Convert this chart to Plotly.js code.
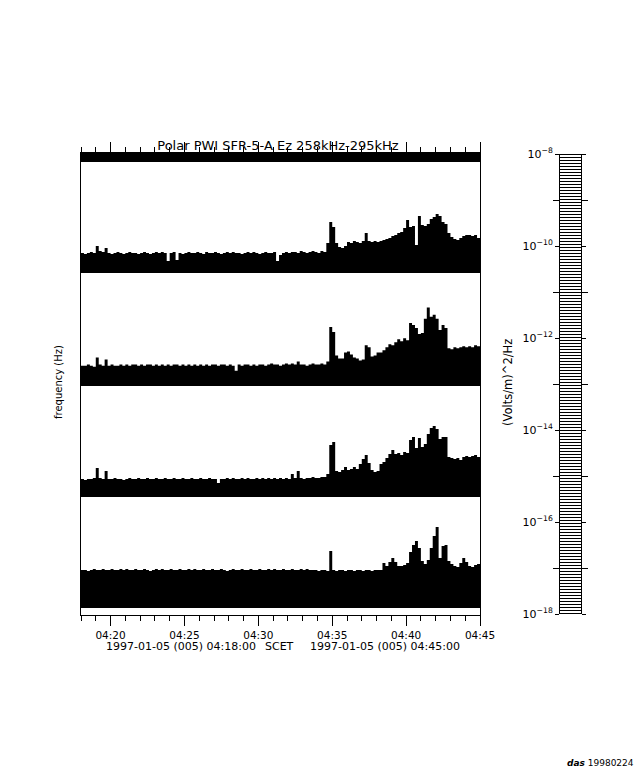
<!DOCTYPE html>
<html>
<head>
<meta charset="utf-8">
<script src="https://cdn.plot.ly/plotly-3.0.1.min.js"></script>
<style>html,body{margin:0;padding:0;background:#fff;}#chart{width:640px;height:768px;}</style>
</head>
<body>
<div id="chart"></div>
<script>
// ---- data ----
var startTime = '1997-01-05 04:18:00';
var sampleSeconds = 12;   // one sample every 12 s, 04:18:00 - 04:45:00

// relative level in each of the 4 frequency bands (0 = band floor)
var band1 = [20,19,20,21,20,27,22,21,25,20, 19,20,21,20,19,20,21,20,20,19,
  20,21,20,19,20,21,20,21,20,12, 20,21,13,20,19,20,21,20,20,21,
  20,19,21,20,20,21,20,19,20,21, 20,21,20,20,19,20,21,20,21,20,
  19,20,21,20,20,21,12,18,20,21, 20,21,21,20,22,21,20,21,22,21,
  20,22,21,30, 51,46,30,26,25,27,31,30,32,31, 30,32,40,32,31,32,31,32,33,34,
  35,37,38,40,41,45,53,46,47,28, 57,48,47,49,54,56,59,57,51,49,
  40,36,34,33,35,37,38,38,37,38, 35,36];
var band2 = [20,20,21,20,19,28,21,20,26,20, 21,20,20,21,20,21,20,21,21,20,
  21,20,21,21,20,21,20,21,20,21, 20,21,21,20,21,20,21,20,21,20,
  21,20,21,20,21,21,20,21,21,20, 21,20,15,21,20,21,21,20,21,20,
  21,21,20,21,22,21,21,20,21,22, 21,22,21,24,21,21,20,21,22,21,
  21,22, 21,24,58,53,30,27,27,33,34,31, 28,27,25,26,40,38,29,30,33,33,
  35,38,41,40,43,46,44,47,45,62, 60,57,51,52,66,77,68,70,66,55,
  60,57,37,36,38,37,38,39,38,39, 38,40,39,41];
var band3 = [18,17,18,18,19,29,19,18,26,18, 18,19,18,18,17,18,19,18,18,19,
  18,18,19,18,18,19,18,18,19,18, 18,19,18,18,19,18,18,19,18,18,
  19,18,18,19,18,18,14,18,18,19, 18,19,18,18,19,18,19,18,18,19,
  18,19,18,19,18,19,18,19,18,19, 18,23,19,26,19,18,19,19,20,19,
  19,20, 20,23,52,55,26,25,27,30,27,28, 30,28,33,38,42,34,27,25,26,33,
  35,39,43,47,43,44,42,45,44,57, 60,49,59,50,53,63,69,71,68,58,
  60,60,40,39,38,39,37,40,41,40, 41,42,40,41];
var band4 = [38,38,37,38,39,38,38,39,38,38, 39,38,38,39,38,39,38,38,39,38,
  38,39,38,37,38,39,38,39,38,38, 39,38,38,39,38,38,39,38,39,38,
  38,39,38,38,39,38,38,39,38,37, 38,39,38,38,39,38,38,39,38,38,
  39,38,38,39,38,39,38,38,39,38, 38,39,38,38,39,38,39,38,38,38,
  37,38,38,37, 57,38,37,38,38,37,38,38,37,38, 38,37,38,38,37,38,38,38,45,42,
  46,50,46,42,42,43,45,56,63,67, 60,47,44,48,60,72,81,50,62,63,
  47,44,42,41,45,50,46,42,41,43, 44,45];

var colorbarExponents = [-18,-16,-14,-12,-10,-8];
var colorbarLabels = ['10<sup>−18</sup>','10<sup>−16</sup>','10<sup>−14</sup>',
  '10<sup>−12</sup>','10<sup>−10</sup>','10<sup>−8</sup>'];

var titleText = 'Polar PWI SFR-5-A Ez 258kHz-295kHz';
var xTickFormat = '%H:%M';
var startLabel = '1997-01-05 (005) 04:18:00';
var endLabel = '1997-01-05 (005) 04:45:00';

// ---- build times ----
function pad(n){return (n<10?'0':'')+n;}
var t0 = Date.parse(startTime.replace(' ','T')+'Z');
var times = band1.map(function(_,i){
  var d = new Date(t0 + i*sampleSeconds*1000);
  return d.getUTCFullYear()+'-'+pad(d.getUTCMonth()+1)+'-'+pad(d.getUTCDate())+' '+
    pad(d.getUTCHours())+':'+pad(d.getUTCMinutes())+':'+pad(d.getUTCSeconds());
});

// ---- geometry (pixels) ----
var W=640,H=768, L=81, R=586, T=153, B=615;
var pw=R-L, ph=B-T;
function fx(px){return (px-L)/pw;}
function fy(py){return (B-py)/ph;}
var bandEdges=[608,497,386,273,162];

var bands=[band4,band3,band2,band1];
var traces=[{x:[times[0]],y:[0.5],xaxis:'x',yaxis:'y',mode:'markers',marker:{size:0.1,opacity:0},showlegend:false,hoverinfo:'skip'}];
var layout={
  width:W,height:H,
  margin:{l:L,r:W-R,t:T,b:H-B,pad:0},
  paper_bgcolor:'#fff',plot_bgcolor:'rgba(0,0,0,0)',
  font:{family:'DejaVu Sans',size:10,color:'#000'},
  showlegend:false,
  title:{text:titleText,x:278/W,xref:'container',xanchor:'center',y:1-145/H,yref:'container',yanchor:'middle',
    font:{family:'DejaVu Sans',size:13,color:'#000'}},
  xaxis:{type:'date',domain:[0,fx(480)],anchor:'y',range:[times[0],times[times.length-1]],
    tickformat:xTickFormat,dtick:300000,tick0:'1997-01-05 04:20:00',
    ticks:'outside',ticklen:10,tickwidth:1,tickcolor:'#000',
    showline:true,linecolor:'#000',linewidth:1,mirror:'ticks',showgrid:false,zeroline:false,
    tickfont:{size:10.5},
    minor:{dtick:60000,tick0:'1997-01-05 04:20:00',ticks:'outside',ticklen:5,tickwidth:1,tickcolor:'#000',showgrid:false}},
  yaxis:{domain:[0,1],anchor:'x',range:[0,1],showline:true,mirror:true,linecolor:'#000',linewidth:1,
    showticklabels:false,ticks:'',showgrid:false,zeroline:false},
  shapes:[{type:'rect',xref:'x',yref:'paper',x0:times[0],x1:times[times.length-1],
    y0:fy(bandEdges[4]),y1:1,fillcolor:'#000',line:{width:0},layer:'below'}],
  annotations:[]
};
for(var k=0;k<4;k++){
  var ax='yaxis'+(k+2);
  layout[ax]={domain:[fy(bandEdges[k]),fy(bandEdges[k+1])],anchor:'x',range:[0,111],
    visible:false,showgrid:false,zeroline:false};
  traces.push({x:times,y:bands[k],xaxis:'x',yaxis:'y'+(k+2),type:'scatter',mode:'lines',
    line:{shape:'hv',width:0,color:'#000'},fill:'tozeroy',fillcolor:'#000',hoverinfo:'skip',showlegend:false});
}

// colour bar (striped, as in the original rendering)
var cbRows=460, cbStep=10/cbRows, cbZ=[];
for(var r=0;r<cbRows;r++){cbZ.push([(r%3===0)?0:1]);}
traces.push({type:'heatmap',xaxis:'x2',yaxis:'y6',z:cbZ,x0:0.5,dx:1,y0:-18+cbStep/2,dy:cbStep,
  colorscale:[[0,'#000'],[1,'#fff']],zmin:0,zmax:1,showscale:false,zsmooth:false,hoverinfo:'skip'});
layout.xaxis2={domain:[fx(560),fx(581)],anchor:'y6',range:[0,1],visible:false};
layout.yaxis6={domain:[fy(614),fy(154)],anchor:'x2',range:[-18,-8],side:'left',
  tickmode:'array',tickvals:colorbarExponents,ticktext:colorbarLabels,
  ticks:'outside',ticklen:4,tickcolor:'#000',showline:true,mirror:'ticks',linecolor:'#000',linewidth:1,
  showgrid:false,zeroline:false,tickfont:{size:11},
  minor:{tickmode:'linear',tick0:-17,dtick:2,ticks:'outside',ticklen:6,tickcolor:'#000',showgrid:false}};

layout.annotations=[
  {xref:'paper',yref:'paper',x:fx(181),y:fy(646),text:startLabel,showarrow:false,xanchor:'center',yanchor:'middle',font:{size:11}},
  {xref:'paper',yref:'paper',x:fx(279),y:fy(646),text:'SCET',showarrow:false,xanchor:'center',yanchor:'middle',font:{size:11}},
  {xref:'paper',yref:'paper',x:fx(385),y:fy(646),text:endLabel,showarrow:false,xanchor:'center',yanchor:'middle',font:{size:11}},
  {xref:'paper',yref:'paper',x:fx(58),y:fy(382),text:'frequency (Hz)',showarrow:false,textangle:-90,xanchor:'center',yanchor:'middle',font:{size:10}},
  {xref:'paper',yref:'paper',x:fx(508),y:fy(383),text:'(Volts/m)^2/Hz',showarrow:false,textangle:-90,xanchor:'center',yanchor:'middle',font:{size:11.5}},
  {xref:'paper',yref:'paper',x:fx(636),y:fy(763),text:'<b><i>das</i></b> 19980224',showarrow:false,xanchor:'right',yanchor:'middle',font:{size:9}}
];

Plotly.newPlot('chart',traces,layout,{displayModeBar:false,staticPlot:true});
</script>
</body>
</html>
